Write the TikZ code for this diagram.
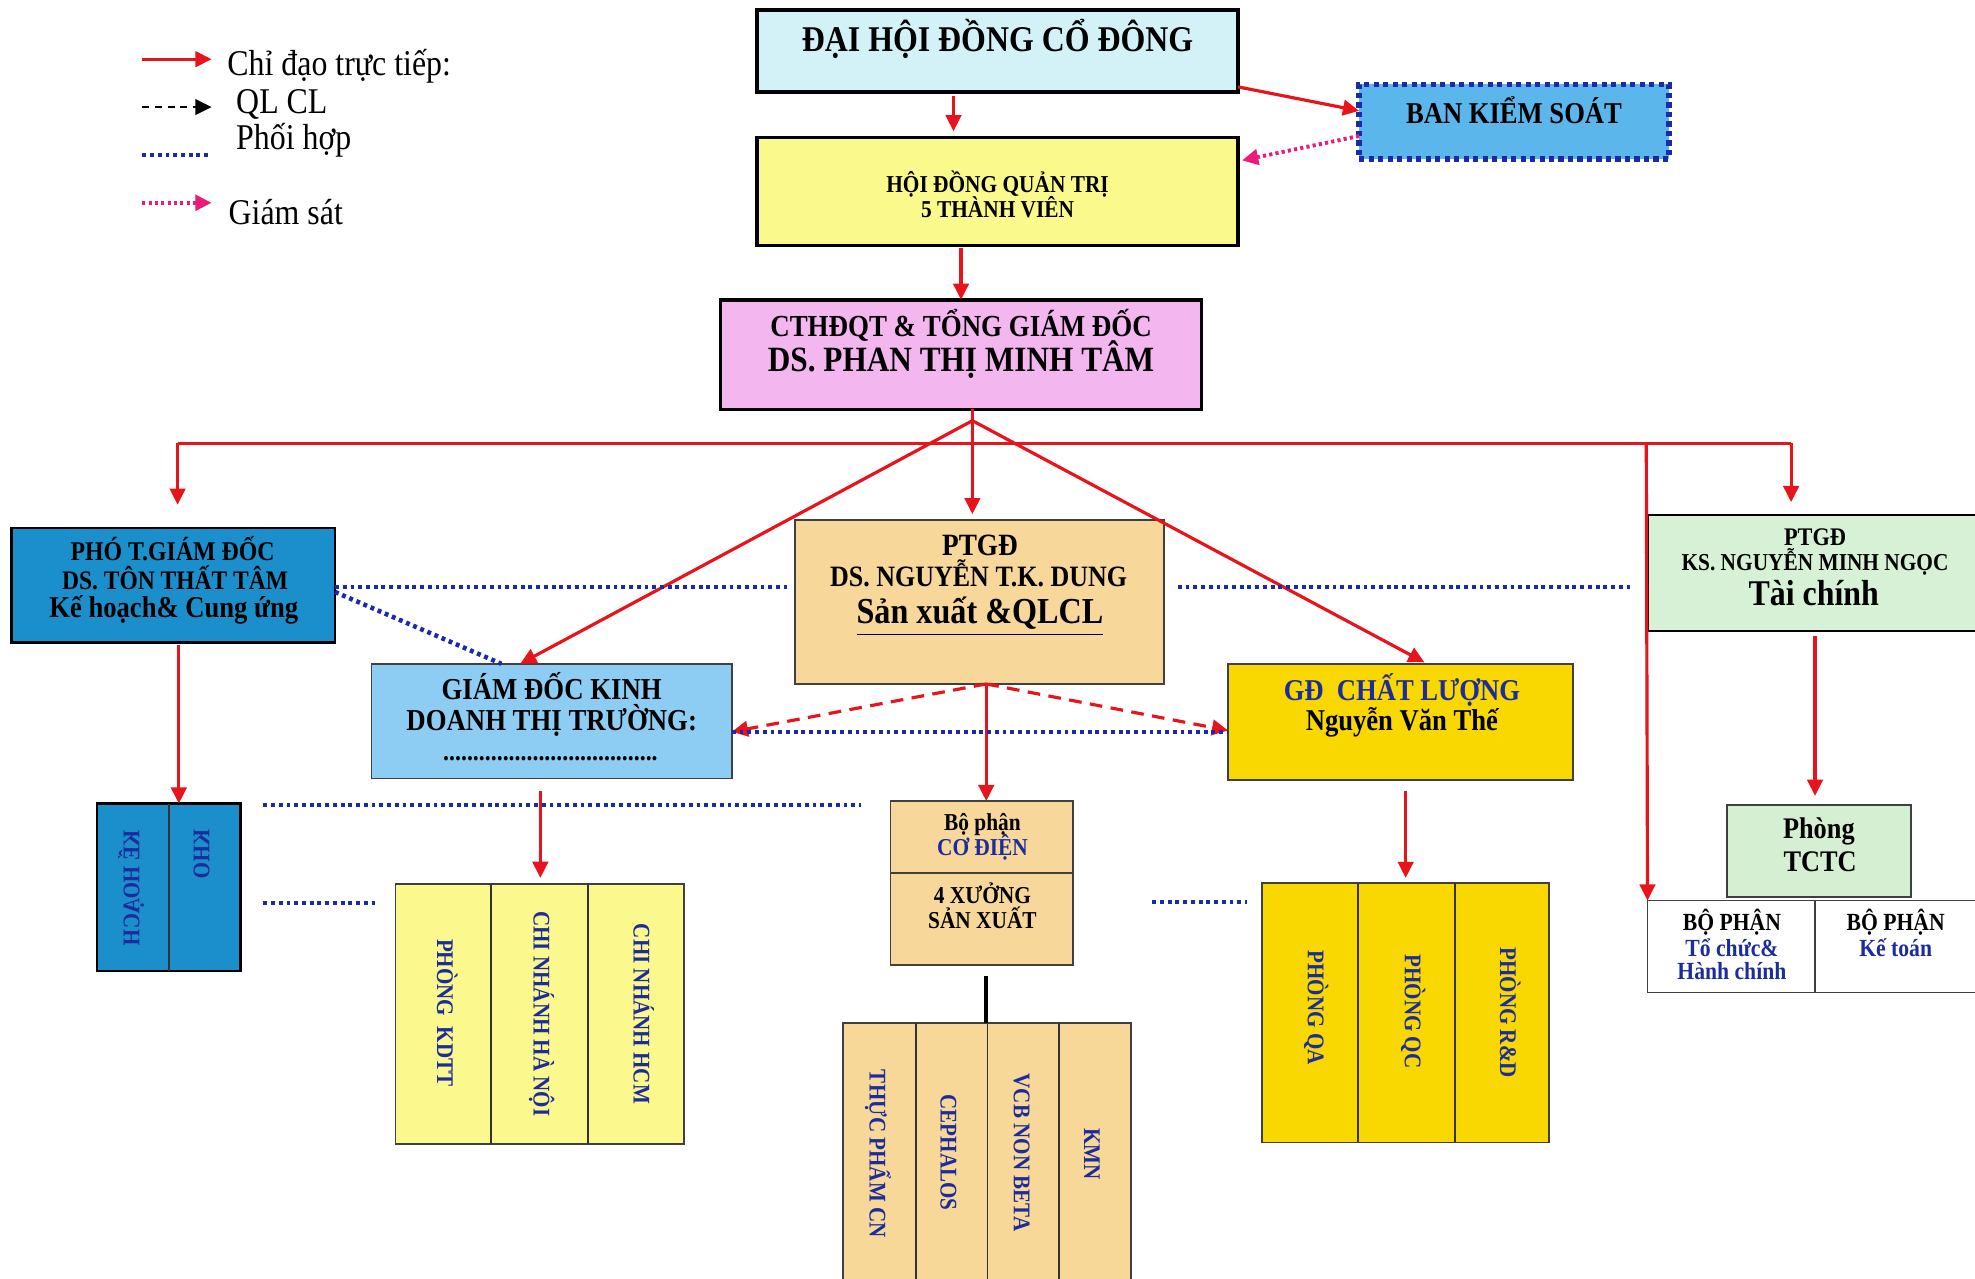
\documentclass[tikz,border=0pt]{standalone}
\usepackage{fontspec}
\setmainfont{Liberation Serif}[FakeStretch=0.88]
\usetikzlibrary{arrows.meta}
\definecolor{cRed}{HTML}{E8141C}
\definecolor{cDot}{HTML}{1A2AA8}
\definecolor{cNavy}{HTML}{1C2C9C}
\definecolor{cPink}{HTML}{EC1A78}
\definecolor{cDHD}{HTML}{D2F2F8}
\definecolor{cBKS}{HTML}{5BB6EC}
\definecolor{cHDQT}{HTML}{FAFA8C}
\definecolor{cCT}{HTML}{F4B6EE}
\definecolor{cPHO}{HTML}{1B8FCB}
\definecolor{cGDKD}{HTML}{8ECDF3}
\definecolor{cDUNG}{HTML}{F8D79A}
\definecolor{cGDCL}{HTML}{F8D800}
\definecolor{cTC}{HTML}{D6F1D6}
\definecolor{cKDTT}{HTML}{FBF98E}
\definecolor{cWS}{HTML}{F8D898}
\definecolor{cTCTC}{HTML}{D4EFD2}
\newcommand\fz[2]{\fontsize{#1}{#2}\selectfont}
\def\U{0.012596cm}
\tikzset{
  wh/.style 2 args={minimum width={#1*\U},minimum height={#2*\U}},
  boxk/.style={draw=black, line width=1pt, inner sep=0pt, outer sep=0pt, anchor=north west},
  boxg/.style={draw=black!75, line width=0.5pt, inner sep=0pt, outer sep=0pt, anchor=north west},
  divider/.style={draw=black!80, line width=0.5pt},
  tl/.style={inner sep=0pt, anchor=base, font={\fz{#1}{#1}\bfseries}},
  lg/.style={inner sep=0pt, anchor=base west, font={\fz{10.3}{12}}},
  vt/.style={inner sep=0pt, rotate=-90, text=cNavy, font={\fz{6.8}{8}\bfseries}},
  mvt/.style={inner sep=0pt, yscale=-1, rotate=90, text=cNavy, font={\fz{6.8}{8}\bfseries}},
  redln/.style={draw=cRed, line width=0.9pt},
  redarr/.style={redln, -{Triangle[length=4.6pt,width=4.4pt]}},
  reddash/.style={redarr, dash pattern=on 3.6pt off 2.4pt},
  bdot/.style={draw=cDot, line width=1.3pt, dash pattern=on 1.1pt off 1.1pt},
  pdot/.style={draw=cPink, line width=1.1pt, dash pattern=on 0.9pt off 0.9pt, -{Triangle[length=4.6pt,width=4.4pt]}},
  blkdash/.style={draw=black, line width=0.6pt, dash pattern=on 2pt off 1.6pt, -{Triangle[length=4.6pt,width=4.4pt]}}
}
\begin{document}
\begin{tikzpicture}[x=0.012596cm,y=-0.012596cm]
\useasboundingbox (0,0) rectangle (1568,1015);
\fill[white] (0,0) rectangle (1568,1015);

% ---------- boxes ----------
\node[boxk, fill=cDHD, wh={382}{65}] (dhd) at (601,8) {};
\node[inner sep=0pt, outer sep=0pt, anchor=north west, fill=cBKS, draw=cDot, line width=1.6pt, dash pattern=on 1.5pt off 1.2pt, wh={246}{59}] (bks) at (1079,67) {};
\node[boxk, fill=cHDQT, wh={382}{86}] (hdqt) at (601,109) {};
\node[boxk, fill=cCT, wh={382}{87}] (ct) at (572,238) {};
\node[boxk, fill=cPHO, line width=0.7pt, wh={257}{91}] (pho) at (9,419) {};
\node[boxg, fill=cGDKD, wh={286}{91}] (gdkd) at (295,527) {};
\node[boxg, fill=cDUNG, wh={293}{130}] (dung) at (631,413) {};
\node[boxg, fill=cGDCL, wh={274}{92}] (gdcl) at (975,527) {};
\node[boxk, fill=cTC, line width=0.7pt, wh={268}{92}] (tc) at (1308,409) {};
\node[boxk, fill=cPHO, line width=0.7pt, wh={114}{133}] (khoach) at (77,638) {};
\node[boxg, fill=cKDTT, wh={229}{206}] (kdtt) at (314,702) {};
\node[boxg, fill=cDUNG, wh={145}{57}] (codien) at (707,636) {};
\node[boxg, fill=cDUNG, wh={145}{73}] (xuong) at (707,693) {};
\node[boxg, fill=cWS, wh={229}{215}] (ws) at (669,812) {};
\node[boxg, fill=cGDCL, wh={228}{206}] (qa) at (1002,701) {};
\node[boxg, fill=cTCTC, wh={146}{73}] (tctc) at (1371,639) {};
\node[boxg, fill=white, wh={133}{73}] (bp1) at (1308,715) {};
\node[boxg, fill=white, wh={135}{73}] (bp2) at (1441,715) {};

% dividers
\draw[divider] (134,0 |- khoach.north) -- (134,0 |- khoach.south);
\draw[divider] (390,0 |- kdtt.north) -- (390,0 |- kdtt.south);
\draw[divider] (467,0 |- kdtt.north) -- (467,0 |- kdtt.south);
\draw[divider] (727,0 |- ws.north) -- (727,0 |- ws.south);
\draw[divider] (784,0 |- ws.north) -- (784,0 |- ws.south);
\draw[divider] (841,0 |- ws.north) -- (841,0 |- ws.south);
\draw[divider] (1078,0 |- qa.north) -- (1078,0 |- qa.south);
\draw[divider] (1155,0 |- qa.north) -- (1155,0 |- qa.south);

% ---------- texts ----------
\node[tl=10.3] (dhdT) at (792,41) {ĐẠI HỘI ĐỒNG CỔ ĐÔNG};
\node[tl=8.6] (bksT) at (1202,98) {BAN KIỂM SOÁT};
\node[tl=6.9] (hdqtT1) at (792,153) {HỘI ĐỒNG QUẢN TRỊ};
\node[tl=6.9] (hdqtT2) at (792,173) {5 THÀNH VIÊN};
\node[tl=8.7] (ctT1) at (763,267) {CTHĐQT \& TỔNG GIÁM ĐỐC};
\node[tl=10.1] (ctT2) at (763,295) {DS. PHAN THỊ MINH TÂM};
\node[tl=7.7] (phoT1) at (137,445) {PHÓ T.GIÁM ĐỐC};
\node[tl=7.6] (phoT2) at (139,468) {DS. TÔN THẤT TÂM};
\node[tl=8.6] (phoT3) at (138,490) {Kế hoạch\& Cung ứng};
\node[tl=8.65] (gdkdT1) at (438,555) {GIÁM ĐỐC KINH};
\node[tl=8.65] (gdkdT2) at (438,580) {DOANH THỊ TRƯỜNG:};
\node[tl=7.7] (gdkdT3) at (437,604) {....................................};
\node[tl=8.8] (dungT1) at (778,441) {PTGĐ};
\node[tl=8.4] (dungT2) at (777,466) {DS. NGUYỄN T.K. DUNG};
\node[tl=10.4] (dungT3) at (778,495) {\underline{Sản xuất \&QLCL}};
\node[tl=8.6, text=cNavy] (gdclT1) at (1113,556) {GĐ\ \ CHẤT LƯỢNG};
\node[tl=8.6] (gdclT2) at (1113,580) {Nguyễn Văn Thế};
\node[tl=7.2] (tcT1) at (1441,433) {PTGĐ};
\node[tl=6.9] (tcT2) at (1441,453) {KS. NGUYỄN MINH NGỌC};
\node[tl=10.3] (tcT3) at (1440,481) {Tài chính};
\node[tl=8.5] (tctcT1) at (1444,666) {Phòng};
\node[tl=8.5] (tctcT2) at (1445,692) {TCTC};
\node[tl=7] (bp1T1) at (1375,739) {BỘ PHẬN};
\node[tl=7, text=cNavy] (bp1T2) at (1375,759) {Tổ chức\&};
\node[tl=7, text=cNavy] (bp1T3) at (1375,778) {Hành chính};
\node[tl=7] (bp2T1) at (1505,739) {BỘ PHẬN};
\node[tl=7, text=cNavy] (bp2T2) at (1505,759) {Kế toán};
\node[tl=6.9] (codienT1) at (780,659) {Bộ phận};
\node[tl=6.9, text=cNavy] (codienT2) at (780,679) {CƠ ĐIỆN};
\node[tl=6.9] (xuongT1) at (780,717) {4 XƯỞNG};
\node[tl=6.9] (xuongT2) at (780,737) {SẢN XUẤT};

% vertical texts
\node[mvt] (khT1) at (104,705) {KẾ HOẠCH};
\node[mvt] (khT2) at (160,678) {KHO};
\node[vt] (kdT1) at (355,804) {PHÒNG\ \ KDTT};
\node[vt] (kdT2) at (430,805) {CHI NHÁNH HÀ NỘI};
\node[vt] (kdT3) at (511,805) {CHI NHÁNH HCM};
\node[vt] (wsT1) at (697,916) {THỰC PHẨM CN};
\node[vt] (wsT2) at (753,915) {CEPHALOS};
\node[vt] (wsT3) at (811,915) {VCB NON BETA};
\node[vt] (wsT4) at (867,916) {KMN};
\node[vt] (qaT1) at (1045,800) {PHÒNG QA};
\node[vt] (qaT2) at (1122,803) {PHÒNG QC};
\node[vt] (qaT3) at (1199,804) {PHÒNG R\&D};

% ---------- connectors ----------
\draw[redarr, shorten <=0.04cm, shorten >=0.06cm] (757,0 |- dhd.south) -- (757,0 |- hdqt.north);
\draw[redarr, shorten <=0.02cm] (763,0 |- hdqt.south) -- (763,0 |- ct.north);
\draw[redarr] (dhd.east |- 0,69) -- (bks.west |- 0,88);
\draw[pdot, shorten >=0.04cm] (bks.west |- 0,108) -- (hdqt.east |- 0,128);

\coordinate (hub) at (772,334);
\coordinate (busL) at (141,352);
\coordinate (busR) at (1422,352);
\coordinate (busT) at (1307,352);
\draw[redarr, shorten >=0.06cm] (772,0 |- ct.south) -- (772,0 |- dung.north);
\draw[redarr] (hub) -- (413,0 |- gdkd.north);
\draw[redarr, shorten >=0.03cm] (hub) -- (1133,0 |- gdcl.north);
\draw[redln] (busL) -- (busR);
\draw[redarr, shorten >=0.23cm] (busL) -- (141,0 |- pho.north);
\draw[redarr, shorten >=0.13cm] (busR) -- (1422,0 |- tc.north);
\draw[redarr] (busT) -- (bp1.north west);

\draw[redarr, shorten <=0.03cm] (142,0 |- pho.south) -- (142,0 |- khoach.north);
\draw[redarr, shorten <=0.126cm, shorten >=0.063cm] (429,0 |- gdkd.south) -- (429,0 |- kdtt.north);
\draw[redarr] (783,0 |- dung.south) -- (783,0 |- codien.north);
\draw[reddash] (783,0 |- dung.south) -- (gdkd.east |- 0,581);
\draw[reddash] (783,0 |- dung.south) -- (gdcl.west |- 0,580);
\draw[redarr, shorten <=0.11cm, shorten >=0.05cm] (1116,0 |- gdcl.south) -- (1116,0 |- qa.north);
\draw[redarr, shorten <=0.05cm, shorten >=0.09cm] (1441,0 |- tc.south) -- (1441,0 |- tctc.north);
\draw[black, line width=1.1pt, shorten <=0.11cm] (783,0 |- xuong.south) -- (783,0 |- ws.north);

% blue coordination lines
\draw[bdot, shorten >=0.075cm] (pho.east |- 0,466) -- (dung.west |- 0,466);
\draw[bdot, shorten <=0.14cm, shorten >=0.16cm] (dung.east |- 0,466) -- (tc.west |- 0,466);
\draw[bdot] (pho.east |- 0,470) -- (398,0 |- gdkd.north);
\draw[bdot] (gdkd.east |- 0,581) -- (gdcl.west |- 0,581);
\draw[bdot, shorten <=0.227cm, shorten >=0.30cm] (khoach.east |- 0,639) -- (codien.west |- 0,639);
\draw[bdot, shorten <=0.227cm, shorten >=0.176cm] (khoach.east |- 0,717) -- (kdtt.west |- 0,717);
\draw[bdot, shorten <=0.79cm, shorten >=0.15cm] (xuong.east |- 0,716) -- (qa.west |- 0,716);

% ---------- legend ----------
\coordinate (lg1a) at (113,47); \coordinate (lg1b) at (168,47);
\coordinate (lg2a) at (113,85); \coordinate (lg2b) at (168,85);
\coordinate (lg3a) at (113,123); \coordinate (lg3b) at (168,123);
\coordinate (lg4a) at (113,161); \coordinate (lg4b) at (168,161);
\draw[redarr] (lg1a) -- (lg1b);
\draw[blkdash] (lg2a) -- (lg2b);
\draw[bdot] (lg3a) -- (lg3b);
\draw[pdot] (lg4a) -- (lg4b);
\node[lg] (lgT1) at (180,60) {Chỉ đạo trực tiếp:};
\node[lg] (lgT2) at (187,90) {QL CL};
\node[lg] (lgT3) at (187,119) {Phối hợp};
\node[lg] (lgT4) at (181,178) {Giám sát};
\end{tikzpicture}
\end{document}
